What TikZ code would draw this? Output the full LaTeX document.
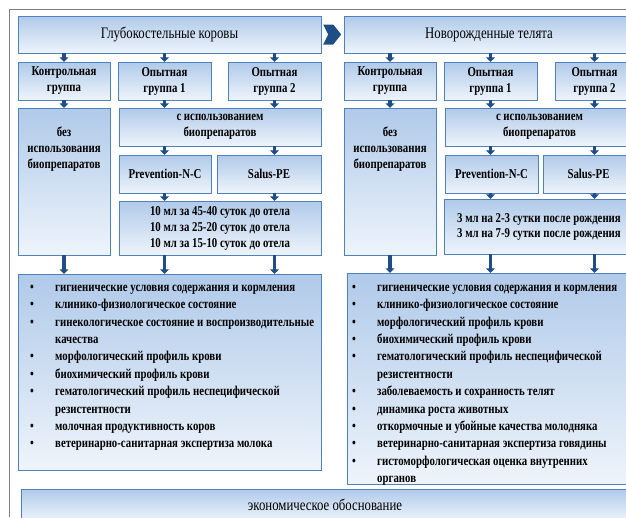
\documentclass[tikz,border=0pt]{standalone}
\usepackage{fontspec}
\setmainfont{Liberation Serif}
\newfontfamily\narrowserif[FakeStretch=0.8]{Liberation Serif}
\usetikzlibrary{arrows.meta}
\definecolor{BoxLine}{RGB}{79,129,189}
\definecolor{BoxTop}{RGB}{176,202,233}
\definecolor{BoxBot}{RGB}{238,244,251}
\definecolor{Arr}{RGB}{31,78,135}
\newcommand\bul[1]{\makebox[25pt][l]{\textbullet}#1}
\newcommand\bulcont[1]{\hspace*{25pt}#1}

\begin{document}
\begin{tikzpicture}[x=1pt,y=-1pt,
  txt/.style={inner sep=0pt,align=center,
    font=\narrowserif\bfseries\fontsize{13.5}{16}\selectfont},
  box/.style={txt,draw=BoxLine,top color=BoxTop,bottom color=BoxBot},
  head/.style={box,font=\narrowserif\fontsize{16}{18}\selectfont},
  listtext/.style={inner sep=0pt,align=left,anchor=north west,
    font=\narrowserif\bfseries\fontsize{13.5}{17.4}\selectfont},
  flow/.style={Arr,line width=3.5pt,-{Triangle[width=9pt,length=4.5pt]}}]
  \useasboundingbox (0,0) rectangle (626,517);
  \clip (0,0) rectangle (626,517);
  \draw[gray,line width=0.8pt] (9.5,517) |- (626,9.5);

  % the two top boxes
  \node[head,minimum width=303,minimum height=37] (cows) at (169.5,34.5)
    {Глубокостельные коровы};
  \node[head,minimum width=290,minimum height=37] (calves) at (489,34.5)
    {Новорожденные телята};
  \fill[Arr] (cows.east) ++(2,-10) -- ++(10,0) -- ++(8,10) -- ++(-8,10)
    -- ++(-10,0) -- ++(5,-10) -- cycle;

  % groups
  \node[box,minimum width=92,minimum height=38] (ctrlA) at (64,81) {Контрольная\\группа};
  \node[box,minimum width=93,minimum height=38] (expA1) at (164.5,81) {Опытная\\группа 1};
  \node[box,minimum width=93,minimum height=38] (expA2) at (274.5,81) {Опытная\\группа 2};
  \node[box,minimum width=92,minimum height=38] (ctrlB) at (390,81) {Контрольная\\группа};
  \node[box,minimum width=93,minimum height=38] (expB1) at (490.5,81) {Опытная\\группа 1};
  \node[box,minimum width=79,minimum height=38] (expB2) at (594.5,81) {Опытная\\группа 2};

  % cows: treatment
  \node[box,minimum width=92,minimum height=147] (noneA) at (64,181.5) {};
  \node[txt] at (64,149) {без\\использования\\биопрепаратов};
  \node[box,minimum width=202,minimum height=38] (useA) at (220,127)
    {с использованием\\биопрепаратов};
  \node[box,minimum width=92,minimum height=38] (prevA) at (165,174) {Prevention-N-C};
  \node[box,minimum width=104,minimum height=38] (salusA) at (269,174) {Salus-PE};
  \node[box,minimum width=202,minimum height=54] (doseA) at (220,228)
    {10 мл за 45-40 суток до отела\\10 мл за 25-20 суток до отела\\10 мл за 15-10 суток до отела};

  % calves: treatment
  \node[box,minimum width=92,minimum height=147] (noneB) at (390,181.5) {};
  \node[txt] at (390,149) {без\\использования\\биопрепаратов};
  \node[box,minimum width=189,minimum height=38] (useB) at (539.5,127)
    {с использованием\\биопрепаратов};
  \node[box,minimum width=93,minimum height=38] (prevB) at (491.5,174) {Prevention-N-C};
  \node[box,minimum width=91,minimum height=38] (salusB) at (588.5,174) {Salus-PE};
  \node[box,minimum width=190,minimum height=55,font=\narrowserif\bfseries\fontsize{13.5}{15}\selectfont]
    (doseB) at (539,226.5)
    {3 мл на 2-3 сутки после рождения\\3 мл на 7-9 сутки после рождения};

  % what was studied
  \node[box,minimum width=303,minimum height=196] (listA) at (169.5,372) {};
  \node[listtext] at (30,279) {\strut\bul{гигиенические условия содержания и кормления}\\
    \bul{клинико-физиологическое состояние}\\
    \bul{гинекологическое состояние и воспроизводительные}\\
    \bulcont{качества}\\
    \bul{морфологический профиль крови}\\
    \bul{биохимический профиль крови}\\
    \bul{гематологический профиль неспецифической}\\
    \bulcont{резистентности}\\
    \bul{молочная продуктивность коров}\\
    \bul{ветеринарно-санитарная экспертиза молока}};
  \node[box,minimum width=287,minimum height=211] (listB) at (490.5,378.5) {};
  \node[listtext] at (352,279) {\strut\bul{гигиенические условия содержания и кормления}\\
    \bul{клинико-физиологическое состояние}\\
    \bul{морфологический профиль крови}\\
    \bul{биохимический профиль крови}\\
    \bul{гематологический профиль неспецифической}\\
    \bulcont{резистентности}\\
    \bul{заболеваемость и сохранность телят}\\
    \bul{динамика роста животных}\\
    \bul{откормочные и убойные качества молодняка}\\
    \bul{ветеринарно-санитарная экспертиза говядины}\\
    \bul{гистоморфологическая оценка внутренних}\\
    \bulcont{органов}};

  \node[head,minimum width=608,minimum height=32]
    (econ) at (325,505) {экономическое обоснование};

  % small arrows
  \foreach \s/\t in {A/cows,B/calves}
    \foreach \f/\g/\c in {\t/ctrl\s/ctrl\s, \t/exp\s1/exp\s1, \t/exp\s2/exp\s2,
        ctrl\s/none\s/ctrl\s, exp\s1/use\s/exp\s1, exp\s2/use\s/exp\s2,
        use\s/prev\s/exp\s1, use\s/salus\s/exp\s2,
        prev\s/dose\s/exp\s1, salus\s/dose\s/exp\s2,
        none\s/list\s/ctrl\s, dose\s/list\s/exp\s1, dose\s/list\s/exp\s2}
      \draw[flow] (\f.south -| \c) -- (\g.north -| \c);
\end{tikzpicture}
\end{document}
